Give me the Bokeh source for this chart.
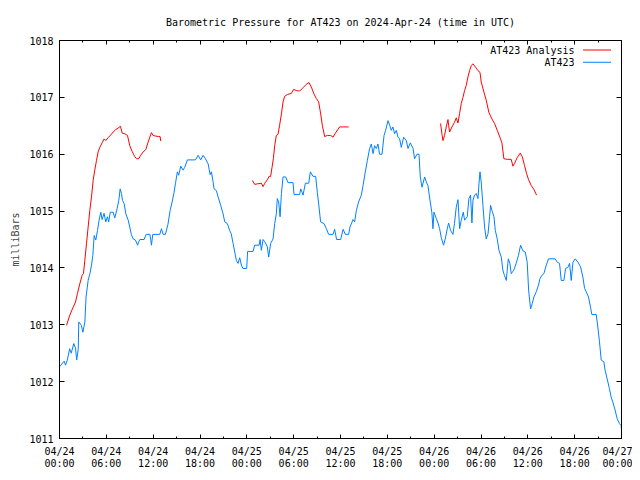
from bokeh.plotting import figure
from bokeh.models import (Range1d, FixedTicker, LinearAxis, Label, BoxAnnotation, Title)
from bokeh.embed import file_html
from bokeh.resources import INLINE

nan = float("nan")

# hours since 2024-04-24 00:00 UTC
at423_hours = [0.0, 0.6, 0.77, 1.0, 1.3, 1.5, 1.83, 2.05, 2.2, 2.4, 2.47, 2.8, 3.0, 3.25, 3.4, 3.67, 3.9,
    4.1, 4.27, 4.44, 4.65, 4.87, 5.08, 5.29, 5.46, 5.71, 5.93, 6.15, 6.3, 6.5, 6.87, 7.08, 7.38, 7.6,
    7.77, 7.94, 8.07, 8.28, 8.5, 8.8, 9.0, 9.2, 9.43, 9.73, 10.0, 10.15, 10.3, 10.84, 11.1, 11.57,
    11.7, 11.78, 11.95, 12.85, 13.06, 13.28, 13.57, 13.9, 14.17, 14.43, 14.68, 14.85, 15.1, 15.27,
    15.53, 15.83, 16.05, 16.39, 17.41, 17.76, 18.09, 18.4, 18.7, 19.04, 19.3, 19.46, 19.68, 19.8,
    20.1, 20.32, 20.65, 20.96, 21.17, 21.5, 21.8, 22.0, 22.24, 22.45, 22.66, 22.88, 23.09, 23.3,
    23.5, 23.98, 24.1, 24.8, 25.0, 25.57, 25.7, 25.86, 26.08, 26.3, 26.63, 26.8, 27.05, 27.36,
    27.57, 27.78, 27.9, 28.08, 28.26, 28.43, 28.64, 28.98, 29.28, 29.92, 30.05, 30.77, 30.9, 31.08,
    31.2, 31.5, 31.93, 32.14, 32.48, 32.82, 33.03, 33.25, 33.45, 33.89, 34.19, 34.48, 35.04, 35.25,
    35.5, 36.02, 36.33, 36.62, 37.04, 37.22, 37.6, 37.81, 38.03, 38.32, 38.67, 38.89, 39.18, 39.44,
    39.73, 39.95, 40.17, 40.37, 40.59, 40.8, 41.0, 41.32, 41.58, 41.78, 42.09, 42.3, 42.5, 42.72,
    42.93, 43.15, 43.37, 43.58, 43.79, 44.09, 44.43, 44.65, 44.94, 45.3, 45.49, 45.8, 46.06, 46.22,
    46.44, 46.78, 47.0, 47.2, 47.5, 47.7, 47.85, 47.97, 48.27, 48.49, 48.7, 48.9, 49.2, 49.42,
    49.68, 49.85, 50.1, 50.4, 50.6, 50.83, 51.05, 51.26, 51.47, 51.73, 51.9, 52.24, 52.45, 52.66,
    52.84, 52.97, 53.18, 53.39, 53.61, 53.74, 53.87, 54.03, 54.25, 54.46, 54.67, 54.9, 55.1, 55.23,
    55.4, 55.66, 55.83, 56.08, 56.3, 56.6, 56.8, 57.0, 57.24, 57.36, 57.5, 57.7, 57.87, 58.2, 58.5,
    58.8, 59.07, 59.37, 59.67, 59.92, 60.1, 60.35, 60.56, 60.78, 61.08, 61.37, 61.55, 61.8, 62.06,
    62.36, 62.65, 63.5, 63.77, 64.06, 64.28, 64.62, 64.83, 65.13, 65.35, 65.56, 65.78, 66.07,
    66.42, 66.75, 67.05, 67.27, 67.48, 67.77, 68.03, 68.2, 68.76, 68.97, 69.18, 69.4, 69.74, 69.9,
    70.16, 70.45, 70.67, 70.89, 71.18, 71.44, 71.74, 71.95, 72.0]
at423_mb = [1012.26, 1012.36, 1012.29, 1012.38, 1012.58, 1012.5, 1012.67, 1012.59, 1012.38, 1012.57,
    1013.05, 1012.99, 1012.87, 1013.05, 1013.49, 1013.78, 1013.9, 1014.05, 1014.22, 1014.57, 1014.49,
    1014.66, 1014.84, 1014.98, 1014.85, 1014.96, 1014.81, 1014.9, 1014.81, 1014.98, 1014.98, 1014.88,
    1015.04, 1015.19, 1015.39, 1015.31, 1015.19, 1015.13, 1014.95, 1014.84, 1014.72, 1014.59,
    1014.51, 1014.49, 1014.4, 1014.46, 1014.5, 1014.5, 1014.59, 1014.59, 1014.49, 1014.4, 1014.59,
    1014.59, 1014.69, 1014.59, 1014.59, 1014.77, 1015.01, 1015.16, 1015.33, 1015.48, 1015.69,
    1015.63, 1015.79, 1015.72, 1015.77, 1015.9, 1015.9, 1015.98, 1015.9, 1015.98, 1015.92, 1015.83,
    1015.64, 1015.69, 1015.51, 1015.39, 1015.36, 1015.25, 1015.1, 1014.95, 1014.81, 1014.78,
    1014.66, 1014.6, 1014.43, 1014.28, 1014.13, 1014.08, 1014.18, 1014.05, 1013.99, 1013.99,
    1014.29, 1014.29, 1014.4, 1014.4, 1014.5, 1014.31, 1014.5, 1014.46, 1014.37, 1014.19, 1014.43,
    1014.51, 1014.78, 1014.95, 1015.22, 1015.16, 1014.9, 1015.31, 1015.6, 1015.6, 1015.5, 1015.5,
    1015.29, 1015.29, 1015.39, 1015.33, 1015.28, 1015.49, 1015.49, 1015.69, 1015.61, 1015.61,
    1015.33, 1015.07, 1014.81, 1014.78, 1014.69, 1014.59, 1014.59, 1014.68, 1014.5, 1014.5,
    1014.68, 1014.59, 1014.59, 1014.72, 1014.85, 1014.81, 1015.01, 1015.16, 1015.28, 1015.45,
    1015.69, 1015.89, 1016.1, 1016.18, 1016.01, 1016.15, 1016.1, 1016.18, 1016.0, 1016.0, 1016.33,
    1016.42, 1016.59, 1016.51, 1016.42, 1016.48, 1016.36, 1016.42, 1016.3, 1016.27, 1016.12,
    1016.3, 1016.24, 1016.1, 1016.2, 1016.1, 1015.92, 1016.0, 1016.0, 1015.6, 1015.42, 1015.6,
    1015.51, 1015.45, 1015.16, 1014.98, 1014.69, 1014.98, 1014.87, 1014.79, 1014.69, 1014.54,
    1014.4, 1014.51, 1014.69, 1014.79, 1014.66, 1014.59, 1014.78, 1015.07, 1015.2, 1014.69,
    1014.84, 1014.98, 1014.84, 1014.9, 1015.22, 1015.28, 1014.79, 1015.19, 1015.28, 1015.31,
    1015.22, 1015.48, 1015.69, 1015.51, 1015.1, 1014.72, 1014.51, 1014.6, 1014.9, 1015.1, 1015.01,
    1014.9, 1014.66, 1014.51, 1014.31, 1014.19, 1013.96, 1013.87, 1013.78, 1013.96, 1014.16,
    1014.08, 1013.9, 1013.96, 1014.08, 1014.22, 1014.4, 1014.3, 1014.28, 1014.1, 1013.61, 1013.28,
    1013.37, 1013.49, 1013.58, 1013.7, 1013.81, 1013.87, 1013.9, 1014.05, 1014.16, 1014.16,
    1014.1, 1014.08, 1013.78, 1013.78, 1013.99, 1014.01, 1014.08, 1013.78, 1014.1, 1014.16,
    1014.1, 1014.02, 1013.84, 1013.64, 1013.58, 1013.49, 1013.31, 1013.18, 1013.18, 1012.96,
    1012.7, 1012.38, 1012.35, 1012.2, 1012.05, 1011.88, 1011.73, 1011.64, 1011.5, 1011.35,
    1011.26, 1011.23, 1011.16]

analysis_hours = [0.9, 1.32, 1.75, 2.05, 2.3, 2.6, 2.9, 3.07, 3.24, 3.46, 3.67, 3.88, 4.1, 4.31, 4.52,
    4.74, 4.95, 5.16, 5.46, 5.72, 5.93, 6.23, 6.57, 6.87, 7.17, 7.51, 7.81, 8.03, 8.36, 8.71, 9.0,
    9.3, 9.64, 9.86, 10.15, 10.4, 10.71, 11.05, 11.35, 11.57, 11.78, 11.99, 12.29, 12.71, 12.89,
    12.97, nan,
    24.71, 25.0, 25.43, 25.86, 26.08, 26.3, 26.63, 26.85, 27.05, 27.23, 27.4, 27.57, 27.78, 28.0,
    28.2, 28.43, 28.64, 28.85, 29.2, 29.7, 30.0, 30.35, 30.77, 31.2, 31.63, 31.97, 32.27, 32.6,
    32.9, 33.2, 33.46, 33.67, 33.97, 34.31, 34.74, 35.04, 35.34, 35.89, 36.33, 37.04, nan,
    48.82, 49.0, 49.13, 49.33, 49.55, 49.77, 49.85, 49.98, 50.28, 50.6, 50.83, 51.05, 51.26, 51.47,
    51.69, 51.9, 52.11, 52.33, 52.54, 52.75, 52.97, 53.3, 53.61, 53.87, 54.03, 54.38, 54.67, 55.0,
    55.4, 55.74, 56.08, 56.42, 56.68, 56.93, 57.36, 57.87, 58.09, 58.3, 58.64, 59.03, 59.28, 59.58,
    59.84, 60.1, 60.44, 60.78, 61.12]
analysis_mb = [1012.99, 1013.17, 1013.31, 1013.4, 1013.55, 1013.72, 1013.87, 1013.9, 1014.13, 1014.43,
    1014.72, 1015.01, 1015.25, 1015.54, 1015.72, 1015.89, 1016.04, 1016.12, 1016.2, 1016.27,
    1016.24, 1016.29, 1016.34, 1016.39, 1016.43, 1016.46, 1016.49, 1016.37, 1016.36, 1016.33,
    1016.15, 1016.05, 1015.96, 1015.92, 1015.92, 1015.98, 1016.04, 1016.08, 1016.21, 1016.3,
    1016.38, 1016.33, 1016.32, 1016.31, 1016.31, 1016.23, nan,
    1015.54, 1015.47, 1015.48, 1015.49, 1015.43, 1015.49, 1015.55, 1015.61, 1015.61, 1015.77,
    1015.92, 1016.15, 1016.33, 1016.35, 1016.51, 1016.71, 1016.92, 1017.02, 1017.05, 1017.07,
    1017.14, 1017.12, 1017.11, 1017.17, 1017.23, 1017.26, 1017.18, 1017.06, 1016.98, 1016.92,
    1016.71, 1016.51, 1016.31, 1016.33, 1016.33, 1016.3, 1016.37, 1016.48, 1016.48, 1016.48, nan,
    1016.54, 1016.35, 1016.24, 1016.33, 1016.48, 1016.61, 1016.51, 1016.39, 1016.48, 1016.56,
    1016.64, 1016.55, 1016.72, 1016.89, 1017.0, 1017.12, 1017.21, 1017.36, 1017.47, 1017.56,
    1017.59, 1017.53, 1017.47, 1017.44, 1017.27, 1017.09, 1016.95, 1016.74, 1016.62, 1016.54,
    1016.42, 1016.3, 1016.2, 1015.92, 1015.91, 1015.91, 1015.79, 1015.84, 1015.94, 1016.02,
    1015.96, 1015.8, 1015.66, 1015.55, 1015.45, 1015.38, 1015.28]

x_tick_hours = [0, 6, 12, 18, 24, 30, 36, 42, 48, 54, 60, 66, 72]
x_tick_labels = ["04/24\n00:00", "04/24\n06:00", "04/24\n12:00", "04/24\n18:00",
                 "04/25\n00:00", "04/25\n06:00", "04/25\n12:00", "04/25\n18:00",
                 "04/26\n00:00", "04/26\n06:00", "04/26\n12:00", "04/26\n18:00",
                 "04/27\n00:00"]
x_minor_hours = list(range(0, 73, 3))
y_ticks = [1011, 1012, 1013, 1014, 1015, 1016, 1017, 1018]

series_names = ["AT423 Analysis", "AT423"]
series_colors = ["#ff0000", "#0080ff"]

FONT = "DejaVu Sans Mono"
FS = "10px"

p = figure(width=632, height=472, output_backend="svg", toolbar_location=None,
           x_range=Range1d(0, 72), y_range=Range1d(1011, 1018),
           x_axis_location=None, y_axis_location=None,
           min_border_left=59, min_border_right=11, min_border_top=40, min_border_bottom=33)
p.xgrid.visible = False
p.ygrid.visible = False
p.outline_line_color = "black"
p.background_fill_color = "white"
p.border_fill_color = "white"


def make_x(labels):
    ax = LinearAxis(ticker=FixedTicker(ticks=x_tick_hours, minor_ticks=x_minor_hours))
    ax.major_tick_in = 4
    ax.major_tick_out = 0
    ax.minor_tick_in = 2
    ax.minor_tick_out = 0
    ax.axis_line_color = "black"
    ax.major_label_text_font = FONT
    ax.major_label_text_font_size = FS
    ax.major_label_text_color = "black"
    ax.major_label_text_line_height = 1.15
    if labels:
        ax.major_label_overrides = {h: s for h, s in zip(x_tick_hours, x_tick_labels)}
        ax.major_label_standoff = 7
    else:
        ax.major_label_overrides = {h: "" for h in x_tick_hours}
        ax.major_label_standoff = 0
    return ax


def make_y(labels):
    ax = LinearAxis(ticker=FixedTicker(ticks=y_ticks, minor_ticks=[]))
    ax.major_tick_in = 5
    ax.major_tick_out = 0
    ax.minor_tick_in = 0
    ax.minor_tick_out = 0
    ax.axis_line_color = "black"
    ax.major_label_text_font = FONT
    ax.major_label_text_font_size = FS
    ax.major_label_text_color = "black"
    if labels:
        ax.major_label_standoff = 6
        ax.axis_label = "milliBars"
        ax.axis_label_text_font = FONT
        ax.axis_label_text_font_size = FS
        ax.axis_label_text_font_style = "normal"
        ax.axis_label_standoff = 5
    else:
        ax.major_label_overrides = {t: "" for t in y_ticks}
        ax.major_label_standoff = 0
    return ax


p.add_layout(make_x(True), "below")
p.add_layout(make_x(False), "above")
p.add_layout(make_y(True), "left")
p.add_layout(make_y(False), "right")

p.title = Title(text="Barometric Pressure for AT423 on 2024-Apr-24 (time in UTC)",
                align="center", text_font=FONT, text_font_size=FS,
                text_font_style="normal", text_color="black", standoff=26)

p.line(analysis_hours, analysis_mb, line_color=series_colors[0], line_width=1)
p.line(at423_hours, at423_mb, line_color=series_colors[1], line_width=1)

# gnuplot-style key: text right-aligned, sample line to its right
key_y = [388.5, 376.2]
for name, color, ky in zip(series_names, series_colors, key_y):
    p.add_layout(Label(x=515, y=ky, x_units="screen", y_units="screen", text=name,
                       text_align="right", text_baseline="middle",
                       text_font=FONT, text_font_size=FS, text_color="black"))
    p.add_layout(BoxAnnotation(left=523.5, right=551.5, bottom=ky - 0.5, top=ky + 0.5,
                               left_units="screen", right_units="screen",
                               bottom_units="screen", top_units="screen",
                               fill_color=color, fill_alpha=1.0, line_color=None))

open("out.html", "w").write(file_html(p, INLINE))
